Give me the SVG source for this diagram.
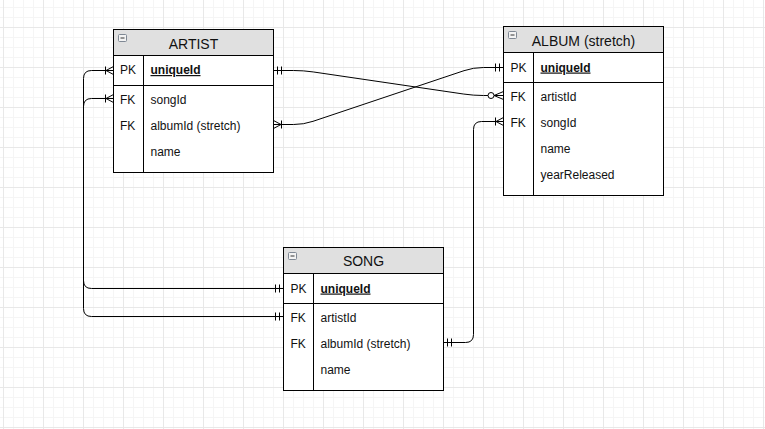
<svg xmlns="http://www.w3.org/2000/svg" width="765" height="429" viewBox="0 0 765 429">
<style>
.tbl{fill:#fff;stroke:#000;stroke-width:1}
.hdr{fill:#e0e0e0;stroke:#000;stroke-width:1}
.sep{stroke:#000;stroke-width:1;fill:none}
.ico{fill:#f3f3f3;stroke:#7f8894;stroke-width:1}
.icm{stroke:#333;stroke-width:1}
.ttl{font-family:"Liberation Sans",Arial,sans-serif;font-size:14px;fill:#111;text-anchor:middle}
.key{font-family:"Liberation Sans",Arial,sans-serif;font-size:12px;fill:#111}
.fld{font-family:"Liberation Sans",Arial,sans-serif;font-size:12px;fill:#111}
.pk{font-weight:bold;text-decoration:underline}
.edge{fill:none;stroke:#000;stroke-width:1}
.mk{fill:none;stroke:#000;stroke-width:1}
</style>
<defs>
<pattern id="grid" x="3" y="27" width="40" height="40" patternUnits="userSpaceOnUse">
<path d="M10.5 0V40M20.5 0V40M30.5 0V40M0 10.5H40M0 20.5H40M0 30.5H40" stroke="#f5f5f5" stroke-width="1" fill="none"/>
<path d="M0.5 0V40M0 0.5H40" stroke="#e8e8e8" stroke-width="1" fill="none"/>
</pattern>
<marker id="mandOne" markerUnits="userSpaceOnUse" viewBox="-20 -10 24 20" markerWidth="24" markerHeight="20" refX="0" refY="0" orient="auto-start-reverse" overflow="visible">
<path class="mk" d="M-4 -4V4M-8 -4V4"/>
</marker>
<marker id="oneMany" markerUnits="userSpaceOnUse" viewBox="-20 -10 24 20" markerWidth="24" markerHeight="20" refX="0" refY="0" orient="auto-start-reverse" overflow="visible">
<path class="mk" d="M0 -4L-7.5 0L0 4M-8 -4V4"/>
</marker>
<marker id="zeroMany" markerUnits="userSpaceOnUse" viewBox="-20 -10 24 20" markerWidth="24" markerHeight="20" refX="0" refY="0" orient="auto-start-reverse" overflow="visible">
<path class="mk" d="M0 -4L-9.5 0L0 4"/>
<circle cx="-12.5" cy="0" r="3" fill="#fff" stroke="#000" stroke-width="1"/>
</marker>
</defs>
<rect x="0" y="0" width="765" height="429" fill="#fff"/>
<rect x="0" y="0" width="765" height="429" fill="url(#grid)"/>

<g id="connectors">
<path class="edge" d="M273.5,70.5 H293.5 Q303.5,70.5 313.4,71.96 L463.6,94.04 Q473.5,95.5 483.5,95.5 H503.5" marker-start="url(#mandOne)" marker-end="url(#zeroMany)"/>
<path class="edge" d="M503.5,67.5 H483.5 Q473.5,67.5 464.0,70.68 L313.0,121.32 Q303.5,124.5 293.5,124.5 H273.5" marker-start="url(#mandOne)" marker-end="url(#oneMany)"/>
<path class="edge" d="M113.5,98.5 H91.5 Q83.5,98.5 83.5,106.5 V280.5 Q83.5,288.5 91.5,288.5 H283.5" marker-start="url(#oneMany)" marker-end="url(#mandOne)"/>
<path class="edge" d="M113.5,70.5 H91.5 Q83.5,70.5 83.5,78.5 V308.5 Q83.5,316.5 91.5,316.5 H283.5" marker-start="url(#oneMany)" marker-end="url(#mandOne)"/>
<path class="edge" d="M443.5,342.5 H465.5 Q473.5,342.5 473.5,334.5 V129.5 Q473.5,121.5 481.5,121.5 H503.5" marker-start="url(#mandOne)" marker-end="url(#oneMany)"/>
</g>

<g id="artist">
<rect class="tbl" x="113.5" y="29.5" width="160" height="143"/>
<rect class="hdr" x="113.5" y="29.5" width="160" height="26"/>
<rect class="ico" x="118.5" y="34.5" width="8" height="7" rx="1"/>
<line class="icm" x1="120.5" y1="38" x2="124.5" y2="38"/>
<text class="ttl" x="193.5" y="48.5">ARTIST</text>
<path class="sep" d="M113.5 85.5H273.5M143.5 55.5V172.5"/>
<text class="key" x="120" y="74">PK</text>
<text class="fld pk" x="150.5" y="74">uniqueId</text>
<text class="key" x="120" y="103.5">FK</text>
<text class="fld" x="150.5" y="103.5">songId</text>
<text class="key" x="120" y="129.5">FK</text>
<text class="fld" x="150.5" y="129.5">albumId (stretch)</text>
<text class="fld" x="150.5" y="155.5">name</text>
</g>

<g id="album">
<rect class="tbl" x="503.5" y="26.5" width="160" height="169"/>
<rect class="hdr" x="503.5" y="26.5" width="160" height="26"/>
<rect class="ico" x="508.5" y="31.5" width="8" height="7" rx="1"/>
<line class="icm" x1="510.5" y1="35" x2="514.5" y2="35"/>
<text class="ttl" x="583.5" y="46">ALBUM (stretch)</text>
<path class="sep" d="M503.5 82.5H663.5M533.5 52.5V195.5"/>
<text class="key" x="510.5" y="71.5">PK</text>
<text class="fld pk" x="540.5" y="71.5">uniqueId</text>
<text class="key" x="510.5" y="101">FK</text>
<text class="fld" x="540.5" y="101">artistId</text>
<text class="key" x="510.5" y="126.5">FK</text>
<text class="fld" x="540.5" y="126.5">songId</text>
<text class="fld" x="540.5" y="152.5">name</text>
<text class="fld" x="540.5" y="178.5">yearReleased</text>
</g>

<g id="song">
<rect class="tbl" x="283.5" y="247.5" width="160" height="143"/>
<rect class="hdr" x="283.5" y="247.5" width="160" height="26"/>
<rect class="ico" x="288.5" y="252.5" width="8" height="7" rx="1"/>
<line class="icm" x1="290.5" y1="256" x2="294.5" y2="256"/>
<text class="ttl" x="363.5" y="266">SONG</text>
<path class="sep" d="M283.5 303.5H443.5M313.5 273.5V390.5"/>
<text class="key" x="290.5" y="292.5">PK</text>
<text class="fld pk" x="320.5" y="292.5">uniqueId</text>
<text class="key" x="290.5" y="322">FK</text>
<text class="fld" x="320.5" y="322">artistId</text>
<text class="key" x="290.5" y="348">FK</text>
<text class="fld" x="320.5" y="348">albumId (stretch)</text>
<text class="fld" x="320.5" y="373.5">name</text>
</g>
</svg>
